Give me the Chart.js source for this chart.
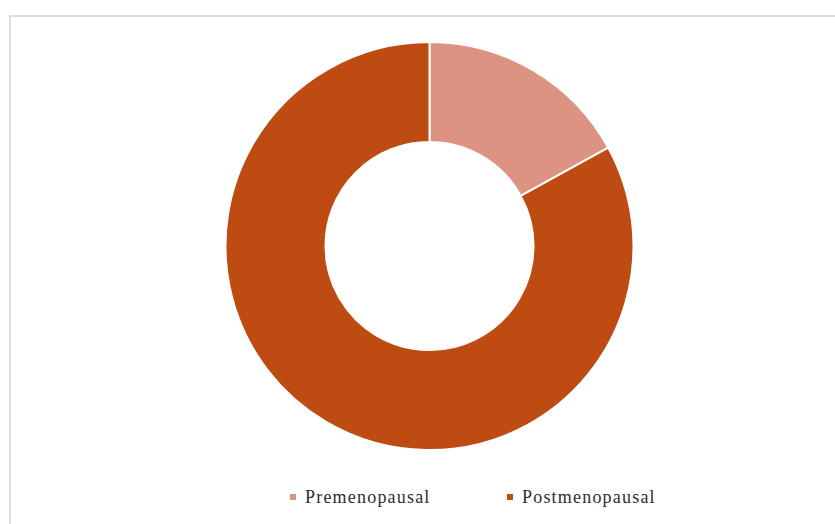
<!DOCTYPE html>
<html>
<head>
<meta charset="utf-8">
<script src="https://cdn.jsdelivr.net/npm/chart.js@4"></script>
<style>
  html, body { margin: 0; padding: 0; background: #fff; }
  #wrap { position: relative; width: 835px; height: 524px; overflow: hidden; }
  #frame {
    position: absolute; left: 9px; top: 15px; width: 840px; height: 520px;
    border-top: 2px solid #dcdcdc; border-left: 2px solid #dcdcdc;
  }
  #chartBox { position: absolute; left: 0; top: 0; width: 835px; height: 451px; }
  .legend-item {
    position: absolute; top: 486px; height: 22px; display: flex; align-items: center;
    font-family: "Liberation Serif", "Times New Roman", serif; font-size: 18px;
    letter-spacing: 1.2px; color: #2e2e2e; white-space: nowrap;
  }
  .legend-item span.swatch { display: inline-block; width: 6px; height: 6px; margin-right: 9px; }
</style>
</head>
<body>
<div id="wrap">
  <div id="frame"></div>
  <div id="chartBox"><canvas id="menoChart"></canvas></div>
  <div id="legend"></div>
</div>
<script>
const categories = ["Premenopausal", "Postmenopausal"]
const shares = [17, 83]
const sliceColors = ["#DC9381", "#BE4B12"]
// left edge of each legend entry
const legendLeft = [290, 507]

const ctx = document.getElementById("menoChart")
new Chart(ctx, {
  type: "doughnut",
  data: {
    labels: categories,
    datasets: [
      {
        data: shares,
        backgroundColor: sliceColors,
        borderColor: "#ffffff",
        borderWidth: 2,
        hoverOffset: 0,
      },
    ],
  },
  options: {
    responsive: true,
    maintainAspectRatio: false,
    animation: false,
    cutout: "51%",
    layout: {
      padding: { top: 41, bottom: 0, left: 24, right: 0 },
    },
    plugins: {
      legend: { display: false },
      tooltip: { enabled: false },
    },
  },
})

// Legend built as plain HTML under the ring
const legendEl = document.getElementById("legend")
categories.forEach((name, i) => {
  const item = document.createElement("div")
  item.className = "legend-item"
  item.style.left = legendLeft[i] + "px"
  const sw = document.createElement("span")
  sw.className = "swatch"
  sw.style.background = sliceColors[i]
  item.appendChild(sw)
  item.appendChild(document.createTextNode(name))
  legendEl.appendChild(item)
})
</script>
</body>
</html>
